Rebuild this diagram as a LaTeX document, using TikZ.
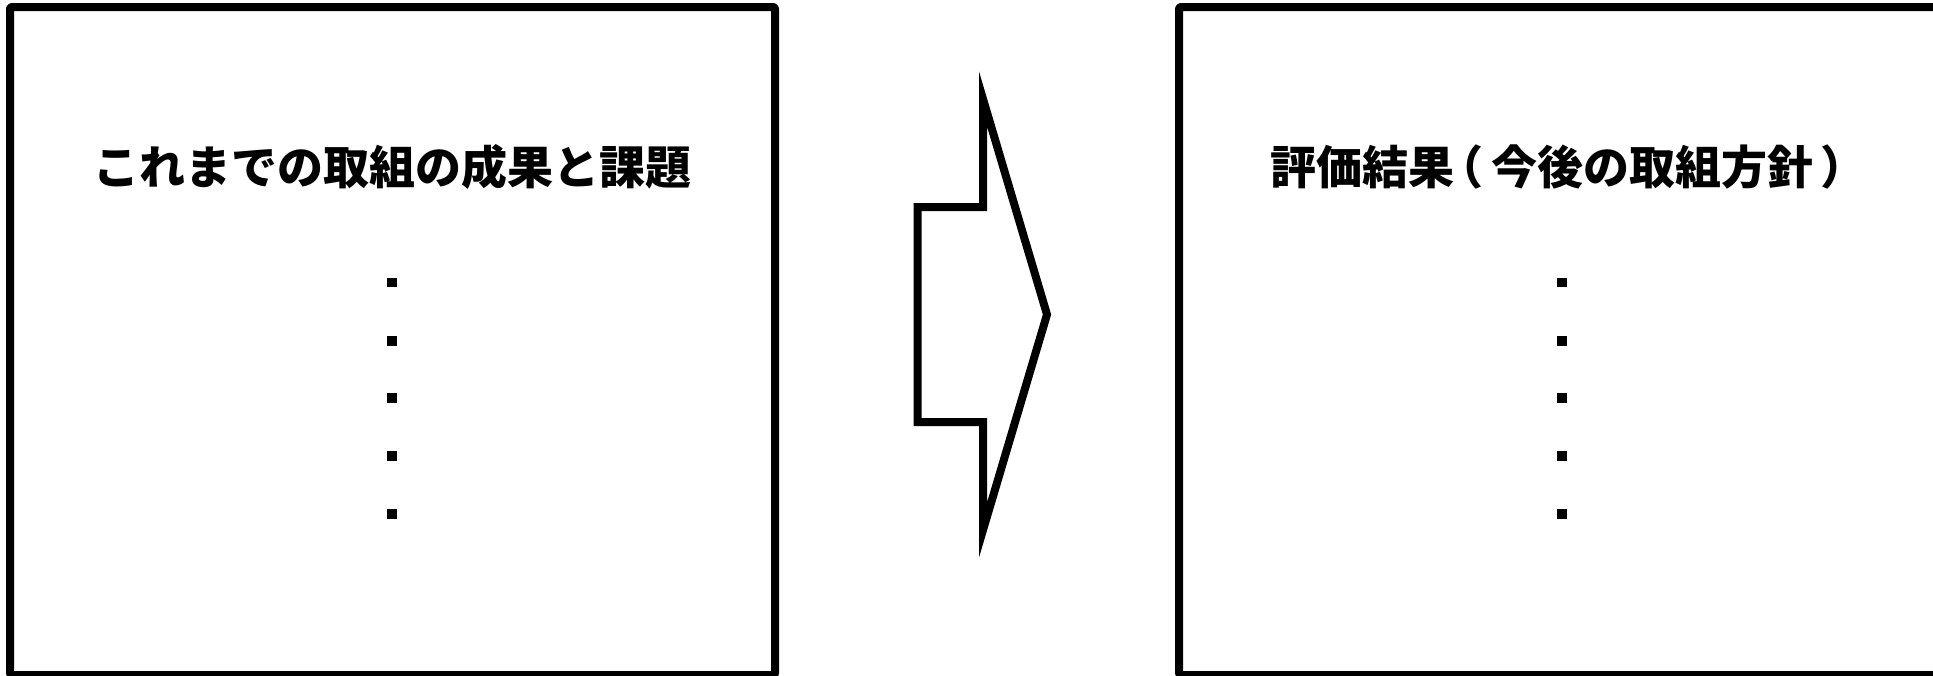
\documentclass[tikz,border=0pt]{standalone}
\usepackage{fontspec}
\newfontfamily\jp{Noto Sans CJK JP}
\newcommand\parbx[2]{\makebox[37pt][l]{\hspace*{#1}\makebox[0pt][l]{#2}}}
\tikzset{
  frame/.style={draw=black, line width=8pt, line join=round, rounded corners=2pt},
  title/.style={inner sep=0pt, font=\jp\bfseries\fontsize{46pt}{55pt}\selectfont},
  dotsq/.style={fill=black, inner sep=0pt, minimum size=9.5pt, draw=none},
  bigarrow/.style={draw=black, line width=8pt, line join=miter, miter limit=20, fill=white}
}
\begin{document}
\begin{tikzpicture}[x=1pt,y=-1pt]
\useasboundingbox (0,0) rectangle (1933,675);
% frames
\draw[frame] (10,7) rectangle (775,675);
\draw[frame] (1179,7) rectangle (1953,675);
% titles
\node[title] (lt) at (392,167) {これまでの取組の成果と課題};
\node[title, anchor=west] (rt) at (1270,167) {評価結果\parbx{-16.5pt}{（}今後の取組方針\parbx{7pt}{）}};
% dots
\foreach \i/\y in {1/282.5,2/341,3/398,4/456,5/514}{
  \node[dotsq] (ld\i) at (392,\y) {};
  \node[dotsq] (rd\i) at (1562,\y) {};
}
% arrow
\draw[bigarrow] (917.5,207) -- (983,207) -- (983,99) -- (1047,314.5) -- (983,530) -- (983,422) -- (917.5,422) -- cycle;
\end{tikzpicture}
\end{document}
